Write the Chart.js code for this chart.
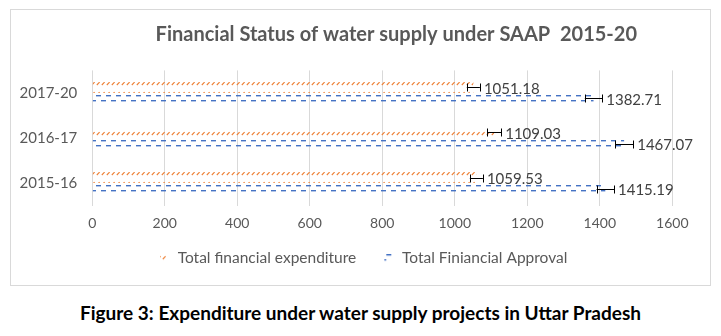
<!DOCTYPE html>
<html><head><meta charset="utf-8">
<script src="https://cdn.jsdelivr.net/npm/chart.js@4.4.1/dist/chart.umd.min.js"></script>
<style>
html,body{margin:0;padding:0;background:#fff;}
#box{position:absolute;left:10px;top:9px;width:699px;height:275px;border:1px solid #d9d9d9;}
#box canvas{display:block;}
#caption{position:absolute;left:0;top:301px;width:721px;text-align:center;font:bold 19px Lato;color:#000;white-space:nowrap;}
</style></head><body>
<div id="box"><canvas id="c" width="699" height="275"></canvas></div>
<div id="caption">Figure 3: Expenditure under water supply projects in Uttar Pradesh</div>
<script>
const categories = ['2017-20', '2016-17', '2015-16'];
const seriesNames = ['Total financial expenditure', 'Total Finiancial Approval'];
const expenditure = [1051.18, 1109.03, 1059.53];
const approval = [1382.71, 1467.07, 1415.19];
const expenditureError = [18, 19, 18];
const approvalError = [24, 25, 24];
const xTickValues = [0, 200, 400, 600, 800, 1000, 1200, 1400, 1600];

const ORANGE = '#ED7D31', BLUE = '#4472C4', TXT = '#595959';

function orangeTile() {
  const c = document.createElement('canvas'); c.width = 5; c.height = 10;
  const g = c.getContext('2d');
  g.strokeStyle = ORANGE; g.lineWidth = 1.1;
  g.beginPath(); g.moveTo(0.8, 5); g.lineTo(3.6, 2.2); g.stroke();
  return c;
}
function blueTile() {
  const c = document.createElement('canvas'); c.width = 10; c.height = 10;
  const g = c.getContext('2d');
  g.fillStyle = BLUE;
  g.fillRect(0, 0, 5, 1.4);
  g.fillRect(5, 5, 5, 1.4);
  return c;
}
const ctx = document.getElementById('c').getContext('2d');
const orangePattern = ctx.createPattern(orangeTile(), 'repeat');
const bluePattern = ctx.createPattern(blueTile(), 'repeat');

function legendIcon(pattern) {
  const c = document.createElement('canvas'); c.width = 28; c.height = 8;
  const g = c.getContext('2d');
  g.fillStyle = pattern; g.fillRect(18, 0, 7, 8);
  return c;
}

const boxShift = {
  id: 'boxShift',
  afterLayout(chart) {
    const t = chart.titleBlock;
    if (t) { t.left += 28; t.width -= 28; }
    const l = chart.legend;
    if (l) { l.left += 26; l.width -= 26; }
  }
};

const errorBarsAndLabels = {
  id: 'errorBarsAndLabels',
  afterDatasetsDraw(chart) {
    const g = chart.ctx, xs = chart.scales.x;
    const errs = [expenditureError, approvalError];
    chart.data.datasets.forEach((ds, i) => {
      const meta = chart.getDatasetMeta(i);
      meta.data.forEach((bar, j) => {
        const v = ds.data[j], e = errs[i][j];
        const x0 = xs.getPixelForValue(v - e), x1 = xs.getPixelForValue(v + e);
        const y = Math.round(bar.y) + 0.5;
        g.save();
        g.strokeStyle = '#000'; g.lineWidth = 1;
        g.beginPath();
        g.moveTo(x0, y); g.lineTo(x1, y);
        g.moveTo(Math.round(x0) + 0.5, y - 4); g.lineTo(Math.round(x0) + 0.5, y + 4);
        g.moveTo(Math.round(x1) + 0.5, y - 4); g.lineTo(Math.round(x1) + 0.5, y + 4);
        g.stroke();
        g.fillStyle = '#404040';
        g.font = '15px Lato';
        g.textBaseline = 'middle'; g.textAlign = 'left';
        g.fillText(v.toFixed(2), x1 + 4, bar.y + 1.5);
        g.restore();
      });
    });
  }
};

new Chart(ctx, {
  type: 'bar',
  data: {
    labels: categories,
    datasets: [
      { label: seriesNames[0], data: expenditure, backgroundColor: orangePattern, borderWidth: 0,
        categoryPercentage: 0.49, barPercentage: 1 },
      { label: seriesNames[1], data: approval, backgroundColor: bluePattern, borderWidth: 0,
        categoryPercentage: 0.49, barPercentage: 1 }
    ]
  },
  options: {
    indexAxis: 'y',
    responsive: false,
    animation: false,
    devicePixelRatio: 1,
    layout: { padding: { left: 0, right: 37.7, top: 2, bottom: 9.1 } },
    scales: {
      x: {
        min: 0, max: 1600,
        afterBuildTicks: (s) => { s.ticks = xTickValues.map(v => ({ value: v })); },
        grid: { color: '#d9d9d9', lineWidth: 1, drawTicks: false },
        border: { display: false },
        ticks: { color: TXT, font: { family: 'Lato', size: 14 }, padding: 9, maxRotation: 0,
                 callback: (v) => String(v) }
      },
      y: {
        grid: { display: false, drawTicks: false },
        border: { display: false },
        afterFit: (s) => { s.width = 81.3; },
        ticks: { color: TXT, font: { family: 'Lato', size: 15 }, padding: 15 }
      }
    },
    plugins: {
      title: {
        display: true, fullSize: false,
        text: 'Financial Status of water supply under SAAP  2015-20',
        color: TXT, font: { family: 'Lato', size: 20, weight: 'bold' },
        padding: { top: 11, bottom: 23.4 }
      },
      legend: {
        position: 'bottom',
        labels: {
          color: TXT, font: { family: 'Lato', size: 15.5 },
          usePointStyle: true, pointStyleWidth: 28, padding: 10,
          generateLabels: (chart) => {
            const items = Chart.defaults.plugins.legend.labels.generateLabels(chart);
            items.forEach((it, i) => { it.pointStyle = legendIcon(i === 0 ? orangePattern : bluePattern); it.lineWidth = 0; });
            return items;
          }
        }
      },
      tooltip: { enabled: false }
    }
  },
  plugins: [errorBarsAndLabels, boxShift]
});
</script>
</body></html>
